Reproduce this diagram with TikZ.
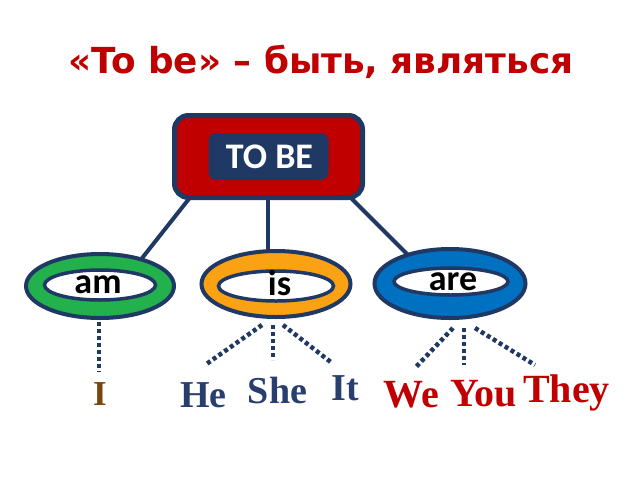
\documentclass[tikz,border=0pt]{standalone}
\usepackage{fontspec}
\usetikzlibrary{shapes.geometric,backgrounds}
\newfontfamily\titlefont{DejaVu Sans}
\newfontfamily\calfont{Carlito}
\newfontfamily\serfont{Liberation Serif}
\definecolor{navy}{RGB}{31,56,100}
\definecolor{darkred}{RGB}{192,0,0}
\definecolor{amgreen}{RGB}{35,177,77}
\definecolor{isorange}{RGB}{250,162,20}
\definecolor{areblue}{RGB}{0,112,192}
\definecolor{heblue}{RGB}{40,62,110}
\definecolor{ibrown}{RGB}{120,70,15}
\pgfdeclarelayer{canvas}
\pgfsetlayers{canvas,background,main}
\tikzset{
  outerell/.style={ellipse, draw=navy, line width=4pt, inner sep=0pt},
  innerell/.style={ellipse, draw=navy, line width=3.5pt, fill=white, inner sep=0pt},
  verb/.style={anchor=base, inner sep=0pt, font=\calfont\bfseries\fontsize{36}{40}\selectfont, text=black},
  conn/.style={draw=navy, line width=4pt},
  dots/.style={draw=navy, line width=4.5pt, dash pattern=on 4pt off 3pt},
  pron/.style={anchor=base, inner sep=0pt, font=\serfont\bfseries\fontsize{38}{40}\selectfont},
  pronred/.style={pron, text=darkred, font=\serfont\bfseries\fontsize{40}{42}\selectfont},
}
\begin{document}
\begin{tikzpicture}[x=1pt,y=-1pt]
\useasboundingbox (0,0) rectangle (640,480);
\begin{pgfonlayer}{canvas}
\fill[white] (0,0) rectangle (640,480);
\end{pgfonlayer}
% title
\node[anchor=base, inner sep=0pt, text=darkred, font=\titlefont\bfseries\fontsize{35.8}{40}\selectfont] (title) at (321,73) {«To be» – быть, являться};
% TO BE box
\node[rectangle, rounded corners=14pt, draw=navy, line width=5pt, fill=darkred, minimum width=188pt, minimum height=82pt, inner sep=0pt] (tobe) at (268.5,156.5) {};
\node[rectangle, rounded corners=8pt, fill=navy, minimum width=120pt, minimum height=47pt, inner sep=0pt] (tobein) at (268.5,156.5) {};
\node[anchor=base, inner sep=0pt, text=white, font=\calfont\bfseries\fontsize{36}{40}\selectfont] (tobetxt) at (269.5,168) {TO BE};
% ellipses
\node[outerell, fill=amgreen, minimum width=148pt, minimum height=64pt] (am) at (100,286) {};
\node[innerell, minimum width=111pt, minimum height=30pt] (amin) at (100,285) {};
\node[verb] (amtxt) at (98,293) {am};
\node[outerell, fill=isorange, minimum width=149pt, minimum height=66pt] (is) at (276,284) {};
\node[innerell, minimum width=115pt, minimum height=30pt] (isin) at (276,286) {};
\node[verb] (istxt) at (279.5,295) {is};
\node[outerell, fill=areblue, minimum width=151pt, minimum height=69pt] (are) at (450,283.5) {};
\node[innerell, minimum width=114pt, minimum height=27pt] (arein) at (451,281.5) {};
\node[verb] (aretxt) at (453,290) {are};
% connectors behind
\begin{scope}[on background layer]
\draw[conn] ([xshift=20pt,yshift=5pt]tobe.south west) -- ([xshift=39pt,yshift=24pt]am.center);
\draw[conn] ([xshift=-0.5pt,yshift=5pt]tobe.south) -- ([xshift=-8pt,yshift=14pt]is.center);
\draw[conn] ([xshift=-17pt,yshift=5pt]tobe.south east) -- ([xshift=-35pt,yshift=21.5pt]are.center);
\end{scope}
% free ends of dotted lines
\coordinate (iEnd) at (99,372);
\coordinate (heEnd) at (205,365);
\coordinate (sheEnd) at (273,360);
\coordinate (itEnd) at (332,363);
\coordinate (weEnd) at (415,368);
\coordinate (youEnd) at (464,365);
\coordinate (theyEnd) at (535,365);
\draw[dots] ([xshift=-1pt,yshift=-2pt]am.south) -- (iEnd);
\draw[dots] ([xshift=-14pt,yshift=-6pt]is.south) -- (heEnd);
\draw[dots] ([xshift=-3pt,yshift=-6pt]is.south) -- (sheEnd);
\draw[dots] ([xshift=7pt,yshift=-6pt]is.south) -- (itEnd);
\draw[dots] ([xshift=3pt,yshift=-8pt]are.south) -- (weEnd);
\draw[dots] ([xshift=14pt,yshift=-8pt]are.south) -- (youEnd);
\draw[dots] ([xshift=25pt,yshift=-8pt]are.south) -- (theyEnd);
% pronouns
\node[pron, text=ibrown, font=\serfont\bfseries\fontsize{35}{40}\selectfont] (I) at (100,405) {I};
\node[pron, text=heblue] (he) at (203.5,407) {He};
\node[pron, text=heblue] (she) at (277.5,403) {She};
\node[pron, text=heblue] (it) at (345,400) {It};
\node[pronred] (we) at (411,407) {We};
\node[pronred] (you) at (483.5,406) {You};
\node[pronred] (they) at (566.5,402) {They};
\end{tikzpicture}
\end{document}
